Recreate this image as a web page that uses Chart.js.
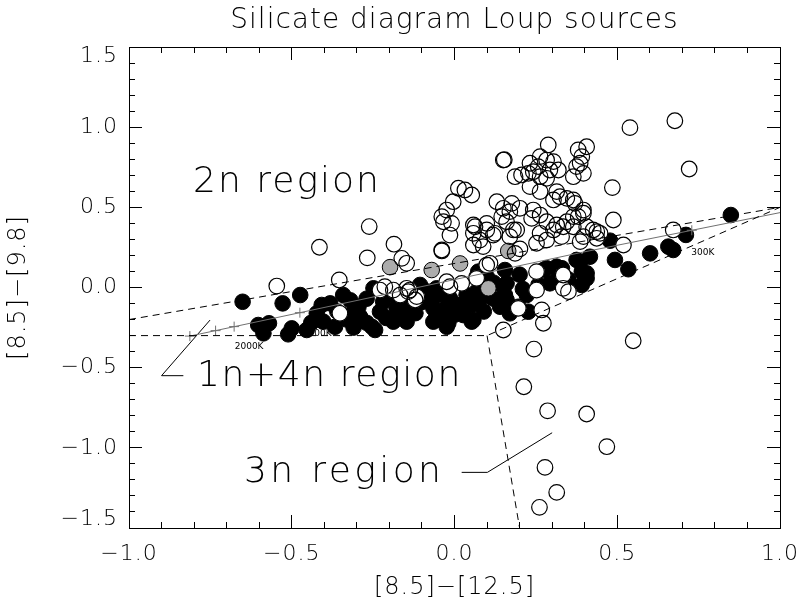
<!DOCTYPE html>
<html><head><meta charset="utf-8">
<script src="https://cdn.jsdelivr.net/npm/chart.js@4.4.0/dist/chart.umd.min.js"></script>
<style>html,body{margin:0;padding:0;background:#fff}canvas{display:block}</style>
</head><body>
<canvas id="c" width="801" height="608"></canvas>
<script>
// ---------- text ----------
const chartTitle = 'Silicate diagram Loup sources';
const xTitle = '[8.5]\u2212[12.5]';
const yTitle = '[8.5]\u2212[9.8]';
const xRange = [-1.0, 1.0];
const yRange = [-1.5, 1.5];
const majorStep = 0.5;
const minorStep = 0.1;

// ---------- sources ([8.5]-[12.5], [8.5]-[9.8]) ----------
const filledSources = [
 [-0.651,-0.089],[-0.528,-0.099],[-0.474,-0.047],[-0.603,-0.234],[-0.570,-0.223],[-0.587,-0.286],
 [-0.500,-0.255],[-0.511,-0.292],[-0.454,-0.265],[-0.423,-0.161],[-0.408,-0.109],[-0.382,-0.099],
 [-0.342,-0.047],[-0.403,-0.213],[-0.367,-0.245],[-0.290,-0.182],[-0.295,-0.120],[-0.249,-0.005],
 [-0.254,-0.245],[-0.229,-0.151],[-0.244,-0.265],[-0.178,-0.130],[-0.137,-0.109],[-0.106,0.016],
 [-0.080,-0.026],[-0.188,-0.047],[-0.219,-0.089],[-0.065,-0.130],[-0.065,-0.213],[-0.147,-0.213],
 [-0.188,-0.213],[-0.320,-0.080],[-0.310,-0.150],[-0.330,-0.200],[-0.310,-0.250],[-0.270,-0.220],
 [-0.210,-0.190],[-0.160,-0.170],[-0.120,-0.160],[-0.100,-0.090],[-0.040,-0.040],[0.000,-0.170],
 [-0.270,-0.070],[-0.055,-0.005],[-0.065,-0.067],[-0.014,-0.067],[0.037,-0.047],[0.068,-0.026],
 [0.017,-0.109],[-0.034,-0.151],[0.027,-0.172],[-0.019,-0.223],[0.053,-0.213],[0.073,0.099],
 [0.155,0.109],[0.160,0.026],[0.155,-0.047],[0.165,-0.130],[0.222,-0.047],[0.227,-0.151],
 [0.283,0.120],[0.258,0.016],[0.293,0.026],[0.150,0.005],[0.160,-0.078],[0.196,-0.120],
 [0.273,0.109],[0.314,0.130],[0.375,0.172],[0.416,0.192],[0.406,0.089],[0.068,0.067],
 [0.099,0.067],[0.053,-0.109],[0.078,-0.078],[-0.024,-0.120],[-0.075,-0.089],[-0.126,-0.078],
 [0.140,-0.120],[0.170,-0.161],[0.058,-0.203],[-0.024,-0.245],[-0.055,-0.182],[0.090,-0.150],
 [0.120,-0.070],[0.320,0.070],[0.330,0.120],[0.478,0.292],[0.493,0.172],[0.534,0.114],
 [0.601,0.213],[0.657,0.255],[0.672,0.234],[0.711,0.328],[0.386,0.161],[0.391,0.099],
 [0.406,0.057],[0.391,0.016],[0.849,0.452],[0.200,0.080],[0.120,0.030],[0.210,-0.010],
 [-0.440,-0.220],[-0.360,-0.150],[0.350,0.050]
];
const openSources = [
 [-0.415,0.251],[-0.268,0.185],[-0.262,0.380],[-0.186,0.270],[-0.162,0.182],[-0.147,0.151],
 [-0.354,0.047],[-0.546,0.009],[-0.352,-0.161],[-0.214,0.005],[-0.188,-0.016],[-0.167,-0.047],
 [-0.142,-0.026],[-0.116,-0.057],[-0.147,-0.005],[-0.121,-0.078],[-0.229,-0.016],[-0.137,-0.016],
 [-0.039,0.228],[0.186,0.213],[0.099,0.140],[0.252,0.099],[0.334,0.078],[0.334,-0.005],
 [0.350,-0.026],[0.068,0.057],[-0.014,0.005],[-0.024,0.036],[0.022,0.026],[0.196,-0.130],
 [0.268,-0.140],[0.273,-0.223],[0.150,-0.265],[0.244,-0.384],[0.213,-0.619],[0.286,-0.769],
 [0.406,-0.789],[0.468,-0.993],[0.278,-1.122],[0.314,-1.278],[0.261,-1.371],[0.252,-0.016],
 [0.488,0.421],[0.519,0.265],[0.672,0.359],[0.386,0.286],[0.365,0.442],[0.396,0.463],
 [0.437,0.348],[0.447,0.338],[0.334,0.379],[0.539,0.997],[0.677,1.040],[0.721,0.739],
 [0.485,0.623],[0.549,-0.332],[0.150,0.795],[0.153,0.797],[0.288,0.889],[0.380,0.858],
 [0.406,0.878],[0.391,0.816],[0.386,0.775],[0.263,0.816],[0.283,0.795],[0.304,0.785],
 [0.257,0.754],[0.232,0.775],[0.242,0.722],[0.227,0.712],[0.206,0.702],[0.186,0.691],
 [0.293,0.733],[0.319,0.733],[0.283,0.681],[0.263,0.691],[0.365,0.691],[0.396,0.712],
 [0.375,0.754],[0.232,0.629],[0.263,0.598],[0.314,0.598],[0.324,0.566],[0.304,0.546],
 [0.345,0.556],[0.370,0.525],[0.396,0.483],[0.380,0.442],[0.406,0.379],[0.426,0.359],
 [0.437,0.307],[0.396,0.317],[0.365,0.379],[0.012,0.619],[0.032,0.608],[0.053,0.577],
 [-0.004,0.535],[-0.024,0.483],[-0.034,0.410],[-0.009,0.400],[-0.014,0.327],[0.130,0.535],
 [0.150,0.494],[0.176,0.525],[0.201,0.494],[0.170,0.473],[0.145,0.442],[0.160,0.410],
 [0.191,0.359],[0.170,0.317],[0.242,0.483],[0.263,0.452],[0.237,0.431],[0.283,0.410],
 [0.314,0.390],[0.304,0.359],[0.263,0.338],[0.283,0.296],[0.329,0.317],[0.345,0.410],
 [0.063,0.379],[0.058,0.338],[0.099,0.359],[0.119,0.327],[0.078,0.296],[-0.039,0.442],
 [-0.039,0.234],[0.058,0.390],[0.099,0.400],[0.124,0.338],[0.058,0.265],[0.088,0.255],
 [0.109,0.151],[0.181,0.359],[0.201,0.241],[0.252,0.276],[0.365,0.546]
];
const graySources = [[-0.198,0.127],[-0.070,0.109],[0.017,0.150],[0.165,0.228],[0.104,-0.005]];

// ---------- region boundaries and blackbody track ----------
const upperBoundary = [[-1.0,-0.2],[1.0,0.5]];
const lowerBoundary = [[-1.0,-0.3],[0.1,-0.3],[1.0,0.5]];
const threeNBoundary = [[0.1,-0.3],[0.2,-1.5]];
const blackbodyTrack = [[-0.813,-0.303],[-0.475,-0.157],[0.386,0.217],[1.0,0.467]];
const temperatureMarks = [[-0.813,-0.303],[-0.734,-0.269],[-0.677,-0.244],[-0.475,-0.157],[0.729,0.357]];
const temperatureNames = ['2000K','1000K','300K'];
const temperatureAnchors = [[-0.631,-0.371],[-0.422,-0.290],[0.763,0.217]];
const regionNames = ['2n region','1n+4n region','3n region'];
const regionAnchors = [[-0.803,0.596],[-0.791,-0.614],[-0.647,-1.213]];
const pointer1n4n = [[-0.833,-0.550],[-0.900,-0.550],[-0.751,-0.203]];
const pointer3n = [[0.022,-1.153],[0.101,-1.153],[0.300,-0.906]];

// ---------- chart ----------
const FAM = "'DejaVu Sans', sans-serif";
const W = '200';
const regionSpacing = ['2px', '1.6px', '3.4px'];
Chart.defaults.font.family = FAM;
Chart.defaults.color = '#000';

const pts = a => a.map(([x, y]) => ({x, y}));
const fmt = v => (Math.abs(v) < 1e-9 ? '0.0' : v.toFixed(1).replace('-', '\u2212'));

function noPad(s) { s.paddingLeft = 0; s.paddingRight = 0; s.paddingTop = 0; s.paddingBottom = 0; }

function mkScale(axis, pos, range, step, tickLen, weight, fit, extra) {
  return Object.assign({
    type: 'linear', axis, position: pos, min: range[0], max: range[1], weight,
    grid: {drawOnChartArea: false, drawTicks: true, tickLength: tickLen, color: '#000', tickColor: '#000', tickWidth: 1, lineWidth: 1},
    border: {display: true, color: '#000', width: 1},
    ticks: {display: false, stepSize: step, autoSkip: false, maxRotation: 0, minRotation: 0},
    afterFit: s => { fit(s); noPad(s); }
  }, extra || {});
}

const annotPlugin = {
  id: 'annot',
  beforeDraw(chart) { chart.ctx.letterSpacing = '1px'; },
  beforeDatasetsDraw(chart) {
    const {ctx, scales: {x, y}} = chart;
    ctx.save();
    ctx.letterSpacing = '0px';
    ctx.font = '9px ' + FAM;
    ctx.fillStyle = '#000';
    ctx.textAlign = 'center';
    ctx.textBaseline = 'middle';
    temperatureNames.forEach((t, i) => {
      ctx.fillText(t, x.getPixelForValue(temperatureAnchors[i][0]), y.getPixelForValue(temperatureAnchors[i][1]));
    });
    ctx.restore();
  },
  afterDatasetsDraw(chart) {
    const {ctx, scales: {x, y}} = chart;
    ctx.save();
    ctx.font = W + ' 36px ' + FAM;
    ctx.fillStyle = '#000';
    ctx.textAlign = 'left';
    ctx.textBaseline = 'alphabetic';
    regionNames.forEach((t, i) => {
      ctx.letterSpacing = regionSpacing[i];
      ctx.fillText(t, x.getPixelForValue(regionAnchors[i][0]), y.getPixelForValue(regionAnchors[i][1]));
    });
    ctx.restore();
  }
};

const lineDs = (data, color, dash) => ({
  data: pts(data), showLine: true, pointRadius: 0, borderColor: color, borderWidth: 1,
  borderDash: dash, fill: false, order: 0, xAxisID: 'x', yAxisID: 'y'
});

new Chart(document.getElementById('c'), {
  type: 'scatter',
  data: {
    datasets: [
      {data: pts(filledSources), pointRadius: 7.8, pointBackgroundColor: '#000', pointBorderColor: '#000', pointBorderWidth: 1, order: 4},
      {data: pts(openSources), pointRadius: 8, pointBackgroundColor: '#fff', pointBorderColor: '#fff', pointBorderWidth: 0, order: 3},
      {data: pts(graySources), pointRadius: 7.8, pointBackgroundColor: '#acacac', pointBorderColor: '#000', pointBorderWidth: 1, order: 2},
      {data: pts(openSources), pointRadius: 7.8, pointBackgroundColor: 'rgba(0,0,0,0)', pointBorderColor: '#000', pointBorderWidth: 1.2, order: 1},
      lineDs(upperBoundary, '#000', [7, 5]),
      lineDs(lowerBoundary, '#000', [7, 5]),
      lineDs(threeNBoundary, '#000', [7, 5]),
      lineDs(blackbodyTrack, '#707070', []),
      lineDs(pointer1n4n, '#000', []),
      lineDs(pointer3n, '#000', []),
      {data: pts(temperatureMarks), pointStyle: 'cross', pointRadius: 5, pointBorderColor: '#707070', pointBorderWidth: 1, order: 0}
    ]
  },
  options: {
    responsive: false, animation: false, devicePixelRatio: 1,
    layout: {padding: {left: 0, right: 21, top: 0, bottom: 0}},
    plugins: {
      legend: {display: false}, tooltip: {enabled: false},
      title: {display: true, fullSize: false, text: chartTitle, color: '#000', font: {family: FAM, size: 28, weight: W}, padding: {top: 4, bottom: 9.4}}
    },
    scales: {
      x: mkScale('x', 'bottom', xRange, majorStep, -13, 1, s => { s.height = 80; }, {
        ticks: {display: true, stepSize: majorStep, autoSkip: false, maxRotation: 0, minRotation: 0, padding: 25.8,
                font: {family: FAM, size: 22, weight: W}, color: '#000', callback: fmt},
        title: {display: true, text: xTitle, color: '#000', font: {family: FAM, size: 24, weight: W}, padding: {top: 0, bottom: 6}}
      }),
      xMinor: mkScale('x', 'bottom', xRange, minorStep, -6, 0, s => { s.height = 0; }),
      xTop: mkScale('x', 'top', xRange, majorStep, -13, 0, s => { s.height = 0; }),
      xTopMinor: mkScale('x', 'top', xRange, minorStep, -6, 0, s => { s.height = 0; }),
      y: mkScale('y', 'left', yRange, majorStep, -13, 1, s => { s.width = 129; }, {
        ticks: {display: true, stepSize: majorStep, autoSkip: false, padding: 24,
                font: {family: FAM, size: 22, weight: W, lineHeight: 0.82}, color: '#000',
                callback: v => Math.abs(v - 1.5) < 1e-6 ? ['', fmt(v)] : (Math.abs(v + 1.5) < 1e-6 ? [fmt(v), ''] : fmt(v))},
        title: {display: true, text: yTitle, color: '#000', font: {family: FAM, size: 24, weight: W}, padding: {top: 4, bottom: 0}}
      }),
      yMinor: mkScale('y', 'left', yRange, minorStep, -6, 0, s => { s.width = 0; }),
      yRight: mkScale('y', 'right', yRange, majorStep, -13, 0, s => { s.width = 0; }),
      yRightMinor: mkScale('y', 'right', yRange, minorStep, -6, 0, s => { s.width = 0; })
    }
  },
  plugins: [annotPlugin]
});
</script>
</body></html>
